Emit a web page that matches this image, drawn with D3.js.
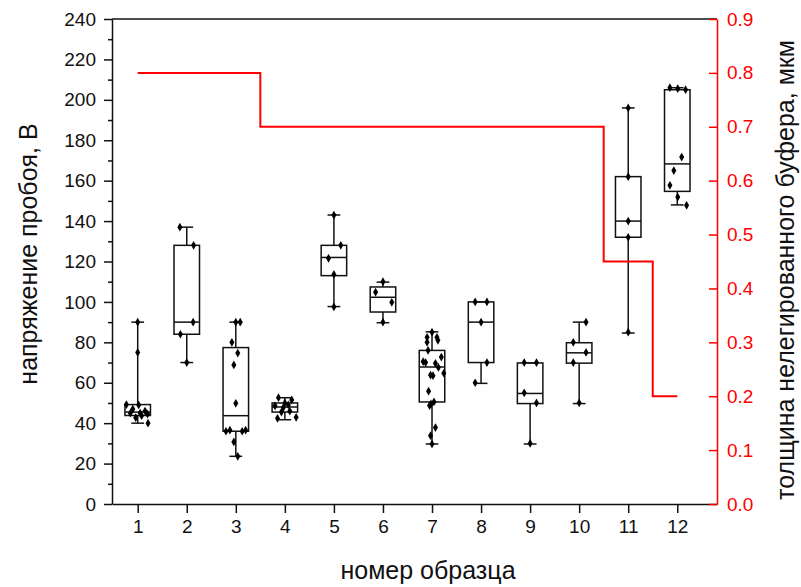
<!DOCTYPE html>
<html>
<head>
    <meta charset="utf-8">
    <title>Box chart</title>
    <script src="https://cdnjs.cloudflare.com/ajax/libs/d3/7.8.5/d3.min.js"></script>
    <style>
        html, body {
            margin: 0;
            padding: 0;
            background: #ffffff;
        }
        svg {
            display: block;
            font-family: "Liberation Sans", Arial, sans-serif;
        }
    </style>
</head>
<body>
<div id="chart"></div>
<script>
    // номер образца
    const samples = [1, 2, 3, 4, 5, 6, 7, 8, 9, 10, 11, 12];

    // box statistics, V
    const whiskerLow = [40, 70, 23.6, 41.7, 97.7, 89.7, 29.7, 59.7, 29.7, 49.7, 84.6, 148];
    const q1 = [43.8, 84, 36, 45.5, 113, 95, 50.5, 70, 49.7, 69.7, 132, 154.7];
    const median = [45.5, 90, 43.7, 48, 122, 102.3, 67.8, 90, 54.7, 74.8, 140, 168.3];
    const q3 = [49.2, 128, 77.4, 50, 128, 107.4, 76, 100, 69.8, 79.8, 162, 205];
    const whiskerHigh = [90, 137, 90, 52.6, 143, 109.8, 85.2, 100, 69.8, 90, 196, 206];

    // raw measurements: [value, horizontal spread]
    const points = [
        [[90, 0], [75, 0], [49.2, -0.23], [49, 0.02], [47, -0.1], [46, 0.15], [45, -0.15],
         [45, 0.05], [44.5, 0.2], [43.7, 0.08], [42.7, -0.04], [40, 0.21]],
        [[137, -0.14], [128, 0.14], [90, 0.13], [84, -0.13], [70, 0]],
        [[90, 0], [90, 0.09], [80, -0.08], [74.7, 0.04], [68.8, -0.04], [49.8, 0],
         [36, -0.2], [36.5, -0.12], [36, 0.13], [36.5, 0.2], [30.7, -0.04], [23.6, 0.04]],
        [[52.6, -0.13], [51.5, 0.14], [50, 0], [49, 0.07], [48.6, -0.2], [47.7, -0.03],
         [46, 0.1], [45.5, -0.07], [42.4, -0.15], [42.9, 0.23]],
        [[143, 0], [128, 0.14], [121.6, -0.11], [113.6, 0], [97.6, 0]],
        [[110, 0], [104.8, -0.15], [99.8, 0.18], [90, 0]],
        [[85, 0], [82.5, -0.1], [82.5, 0.1], [80, -0.1], [81, 0.12], [76, -0.08],
         [70.5, -0.18], [70, -0.13], [72.7, 0.19], [69.6, 0.07], [67.6, 0.13], [64.7, 0.24],
         [63.8, -0.03], [63.5, 0.02], [55.8, -0.07], [50.5, 0.04], [49.5, -0.02], [48.7, -0.05],
         [37.8, 0.07], [33.8, -0.03], [29.7, 0]],
        [[100, -0.12], [100, 0.12], [90, 0], [70, 0.12], [60, -0.12]],
        [[70, -0.12], [70, 0.13], [55, -0.12], [50, 0.13], [30, 0]],
        [[90, 0.14], [80, -0.12], [75, 0.14], [70, -0.12], [50, 0]],
        [[196, 0], [162, 0], [140, 0], [132, 0], [85, 0]],
        [[206, -0.15], [205.5, 0.01], [205, 0.17], [171.7, 0.09], [165, -0.07],
         [157.7, -0.15], [151.9, 0.01], [147.8, 0.19]]
    ];

    // толщина нелегированного буфера, мкм
    const bufferThickness = [0.8, 0.8, 0.8, 0.7, 0.7, 0.7, 0.7, 0.7, 0.7, 0.7, 0.45, 0.2];

    const leftTicks = d3.range(0, 241, 20);
    const rightTicks = d3.range(0, 0.91, 0.1);

    const width = 801, height = 587;
    const margin = { top: 19, right: 84, bottom: 83, left: 112 };
    const innerW = width - margin.left - margin.right;
    const innerH = height - margin.top - margin.bottom;

    const svg = d3.select("#chart")
        .append("svg")
        .attr("width", width)
        .attr("height", height);

    const g = svg.append("g")
        .attr("transform", `translate(${margin.left},${margin.top})`);

    const x = d3.scaleLinear().domain([0.476, 12.81]).range([0, innerW]);
    const y = d3.scaleLinear().domain([0, 240]).range([innerH, 0]);
    const y2 = d3.scaleLinear().domain([0, 0.9]).range([innerH, 0]);

    const boxW = 0.52;
    const capW = 0.26;

    // boxes
    const boxes = g.append("g")
        .selectAll("g")
        .data(samples)
        .enter()
        .append("g")
        .attr("stroke", "#111")
        .attr("stroke-width", 1.5)
        .attr("fill", "none");

    boxes.append("line")
        .attr("x1", (d) => x(d))
        .attr("x2", (d) => x(d))
        .attr("y1", (d, i) => y(whiskerHigh[i]))
        .attr("y2", (d, i) => y(q3[i]));

    boxes.append("line")
        .attr("x1", (d) => x(d))
        .attr("x2", (d) => x(d))
        .attr("y1", (d, i) => y(q1[i]))
        .attr("y2", (d, i) => y(whiskerLow[i]));

    boxes.append("line")
        .attr("x1", (d) => x(d - capW / 2))
        .attr("x2", (d) => x(d + capW / 2))
        .attr("y1", (d, i) => y(whiskerHigh[i]))
        .attr("y2", (d, i) => y(whiskerHigh[i]));

    boxes.append("line")
        .attr("x1", (d) => x(d - capW / 2))
        .attr("x2", (d) => x(d + capW / 2))
        .attr("y1", (d, i) => y(whiskerLow[i]))
        .attr("y2", (d, i) => y(whiskerLow[i]));

    boxes.append("rect")
        .attr("x", (d) => x(d - boxW / 2))
        .attr("width", (d) => x(d + boxW / 2) - x(d - boxW / 2))
        .attr("y", (d, i) => y(q3[i]))
        .attr("height", (d, i) => y(q1[i]) - y(q3[i]));

    boxes.append("line")
        .attr("x1", (d) => x(d - boxW / 2))
        .attr("x2", (d) => x(d + boxW / 2))
        .attr("y1", (d, i) => y(median[i]))
        .attr("y2", (d, i) => y(median[i]));

    // points
    const diamond = d3.symbol().type(d3.symbolDiamond).size(22);
    boxes.each(function (d, i) {
        d3.select(this)
            .selectAll("path")
            .data(points[i])
            .enter()
            .append("path")
            .attr("d", diamond)
            .attr("stroke", "none")
            .attr("fill", "#000")
            .attr("transform", (p) => `translate(${x(d + p[1])},${y(p[0])})`);
    });

    // buffer thickness step line
    const line = d3.line()
        .x((d, i) => x(samples[i]))
        .y((d) => y2(d))
        .curve(d3.curveStep);

    g.append("path")
        .datum(bufferThickness)
        .attr("fill", "none")
        .attr("stroke", "#ff0000")
        .attr("stroke-width", 2)
        .attr("d", line);

    // axes
    g.append("line")
        .attr("x1", 0).attr("x2", innerW)
        .attr("y1", 0).attr("y2", 0)
        .attr("stroke", "#111")
        .attr("stroke-width", 1.5);

    const xAxis = g.append("g")
        .attr("transform", `translate(0,${innerH})`)
        .call(d3.axisBottom(x).tickValues(samples).tickSize(9).tickSizeOuter(0).tickPadding(7));

    const yMinor = g.append("g")
        .call(d3.axisLeft(y).tickValues(d3.range(10, 240, 20)).tickSize(4).tickFormat(""));
    yMinor.select(".domain").remove();

    const yAxis = g.append("g")
        .call(d3.axisLeft(y).tickValues(leftTicks).tickSize(8).tickSizeOuter(0).tickPadding(8));

    [xAxis, yAxis, yMinor].forEach((a) => {
        a.selectAll("line").attr("stroke", "#111").attr("stroke-width", 1.5);
        a.selectAll(".domain").attr("stroke", "#111").attr("stroke-width", 1.5);
        a.selectAll("text").attr("fill", "#111").style("font-size", "19px")
            .style("font-family", "'Liberation Sans', Arial, sans-serif");
    });

    const y2Axis = g.append("g")
        .attr("transform", `translate(${innerW},0)`)
        .call(d3.axisRight(y2).tickValues(rightTicks).tickSize(-8).tickSizeOuter(0)
            .tickPadding(10).tickFormat(d3.format(".1f")));

    y2Axis.selectAll("line").attr("stroke", "#ff0000").attr("stroke-width", 1.5);
    y2Axis.select(".domain").attr("stroke", "#ff0000").attr("stroke-width", 1.5);
    y2Axis.selectAll("text").attr("fill", "#ff0000").style("font-size", "19px")
        .style("font-family", "'Liberation Sans', Arial, sans-serif");

    // titles
    svg.append("text")
        .attr("x", 428)
        .attr("y", 579)
        .attr("text-anchor", "middle")
        .style("font-size", "25px")
        .attr("fill", "#111")
        .text("номер образца");

    svg.append("text")
        .attr("transform", "translate(37,254) rotate(-90)")
        .attr("text-anchor", "middle")
        .style("font-size", "25px")
        .attr("fill", "#111")
        .text("напряжение пробоя, В");

    svg.append("text")
        .attr("transform", "translate(794,270) rotate(-90)")
        .attr("text-anchor", "middle")
        .style("font-size", "25px")
        .attr("fill", "#111")
        .text("толщина нелегированного буфера, мкм");
</script>
</body>
</html>
